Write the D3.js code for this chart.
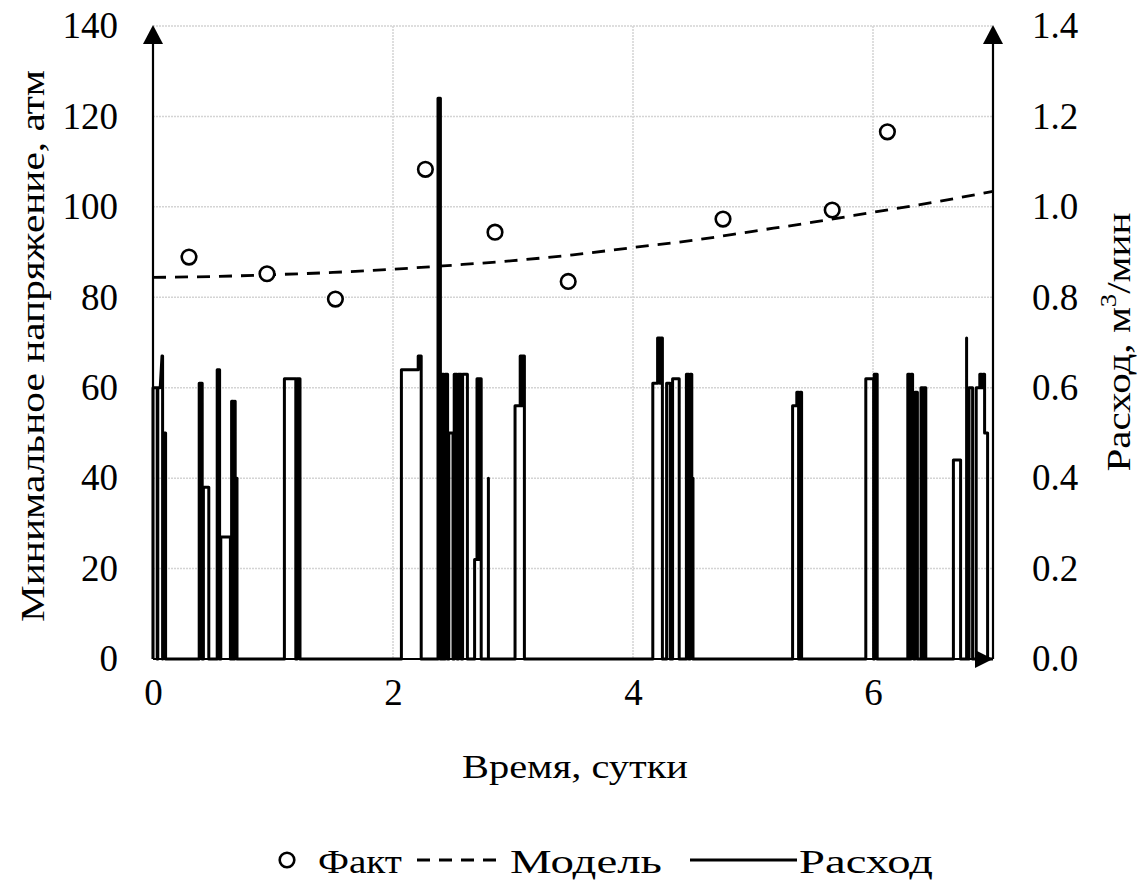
<!DOCTYPE html>
<html>
<head>
<meta charset="utf-8">
<script src="https://cdn.jsdelivr.net/npm/d3@7"></script>
<style>
  html, body { margin: 0; padding: 0; background: #ffffff; }
  svg { display: block; }
  text { font-family: "Liberation Serif", "DejaVu Serif", serif; fill: #000; }
</style>
</head>
<body>
<svg id="chart" width="1141" height="881"></svg>
<script>
// ---------- DATA ----------
const leftTicks = [0, 20, 40, 60, 80, 100, 120, 140];
const rightTicks = [0, 0.2, 0.4, 0.6, 0.8, 1.0, 1.2, 1.4];
const xTicks = [0, 2, 4, 6];

// Факт (measured minimum pressure), time in days / atm
const factTime  = [0.30, 0.95, 1.52, 2.27, 2.85, 3.46, 4.75, 5.66, 6.12];
const factValue = [88.9, 85.2, 79.6, 108.3, 94.4, 83.5, 97.3, 99.3, 116.6];

// Модель (model curve)
const modelTime  = [0, 0.5, 1, 1.5, 2, 2.5, 3, 3.5, 4, 4.5, 5, 5.5, 6, 6.5, 7];
const modelValue = [84.4, 84.6, 85.0, 85.5, 86.2, 87.1, 88.1, 89.4, 91.0, 92.6, 94.6, 96.6, 98.8, 101.0, 103.4];

// Расход (flow rate, m3/min) step series: [time, value]
const flowPoints = [
  [0,0],[0,0.60],[0.035,0.60],[0.035,0],[0.04,0],[0.04,0.60],[0.06,0.60],[0.075,0.67],[0.08,0.67],[0.08,0],[0.08,0.50],[0.105,0.50],[0.105,0],
  [0.385,0],[0.385,0.61],[0.41,0.61],[0.41,0],[0.42,0],[0.42,0.38],[0.465,0.38],[0.465,0],
  [0.535,0],[0.535,0.64],[0.555,0.64],[0.555,0],[0.565,0],[0.565,0.27],[0.645,0.27],[0.645,0],[0.655,0],[0.655,0.57],[0.67,0.57],[0.67,0],[0.68,0],[0.68,0.57],[0.685,0.57],[0.685,0.40],[0.70,0.40],[0.70,0],
  [1.095,0],[1.095,0.62],[1.19,0.62],[1.19,0],[1.20,0],[1.20,0.62],[1.225,0.62],[1.225,0],
  [2.07,0],[2.07,0.64],[2.21,0.64],[2.21,0.67],[2.235,0.67],[2.235,0],
  [2.375,0],[2.375,1.24],[2.395,1.24],[2.395,0],[2.41,0],[2.41,0.63],[2.425,0.63],[2.425,0],[2.435,0],[2.435,0.63],[2.455,0.63],[2.455,0],
  [2.465,0],[2.465,0.50],[2.50,0.50],[2.50,0],
  [2.51,0],[2.51,0.63],[2.535,0.63],[2.535,0],[2.545,0],[2.545,0.63],[2.57,0.63],[2.57,0],[2.58,0],[2.58,0.63],[2.62,0.63],[2.62,0],
  [2.68,0],[2.68,0.22],[2.70,0.22],[2.70,0.62],[2.715,0.62],[2.715,0.22],[2.72,0.22],[2.72,0.62],[2.735,0.62],[2.735,0],
  [2.795,0],[2.795,0.40],[2.795,0],
  [3.017,0],[3.017,0.56],[3.06,0.56],[3.06,0.67],[3.075,0.67],[3.075,0.56],[3.08,0.56],[3.08,0.67],[3.095,0.67],[3.095,0],
  [4.165,0],[4.165,0.61],[4.205,0.61],[4.205,0.71],[4.225,0.71],[4.225,0.61],[4.235,0.61],[4.235,0.71],[4.245,0.71],[4.245,0],
  [4.28,0],[4.28,0.61],[4.31,0.61],[4.31,0],[4.33,0],[4.33,0.62],[4.385,0.62],[4.385,0],
  [4.445,0],[4.445,0.63],[4.465,0.63],[4.465,0],[4.475,0],[4.475,0.63],[4.49,0.63],[4.49,0.40],[4.50,0.40],[4.50,0],
  [5.33,0],[5.33,0.56],[5.365,0.56],[5.365,0.59],[5.38,0.59],[5.38,0],[5.39,0],[5.39,0.59],[5.405,0.59],[5.405,0],
  [5.94,0],[5.94,0.62],[6.005,0.62],[6.005,0],[6.01,0],[6.01,0.63],[6.035,0.63],[6.035,0],
  [6.29,0],[6.29,0.63],[6.305,0.63],[6.305,0],[6.315,0],[6.315,0.63],[6.33,0.63],[6.33,0.59],[6.34,0.59],[6.34,0],[6.35,0],[6.35,0.59],[6.37,0.59],[6.37,0],
  [6.40,0],[6.40,0.60],[6.415,0.60],[6.415,0],[6.425,0],[6.425,0.60],[6.44,0.60],[6.44,0],
  [6.67,0],[6.67,0.44],[6.73,0.44],[6.73,0],
  [6.78,0],[6.78,0.71],[6.78,0],[6.80,0],[6.80,0.60],[6.83,0.60],[6.83,0],
  [6.86,0],[6.86,0.60],[6.89,0.60],[6.89,0.63],[6.905,0.63],[6.905,0.60],[6.915,0.60],[6.915,0.63],[6.93,0.63],[6.93,0.50],[6.955,0.50],[6.955,0],[7,0]
];

const leftTitle = "Минимальное напряжение, атм";
const xTitle = "Время, сутки";
const legendLabels = ["Факт", "Модель", "Расход"];

// ---------- LAYOUT ----------
const svg = d3.select("#chart");
const X0 = 153, X1 = 993, Y0 = 659, Y1 = 26;
const FS = 37;     // numeric labels
const FC = 34;     // cyrillic labels
const FF = "'Liberation Serif', 'DejaVu Serif', serif";

const x = d3.scaleLinear().domain([0, 7]).range([X0, X1]);
const yL = d3.scaleLinear().domain([0, 140]).range([Y0, Y1]);
const yR = d3.scaleLinear().domain([0, 1.4]).range([Y0, Y1]);

// gridlines
const grid = svg.append("g").attr("stroke", "#d4d4d4").attr("stroke-width", 1.5).attr("stroke-dasharray", "2,1");
grid.selectAll("line.h").data(leftTicks.filter(d => d > 0)).enter().append("line")
  .attr("x1", X0).attr("x2", X1).attr("y1", d => yL(d)).attr("y2", d => yL(d));
grid.selectAll("line.v").data(xTicks.filter(d => d > 0)).enter().append("line")
  .attr("x1", d => x(d)).attr("x2", d => x(d)).attr("y1", Y1).attr("y2", Y0);

// flow step line
svg.append("path")
  .datum(flowPoints)
  .attr("fill", "none")
  .attr("stroke", "#000")
  .attr("stroke-width", 3)
  .attr("stroke-linejoin", "round")
  .attr("d", d3.line().x(d => x(d[0])).y(d => yR(d[1])));

// model dashed line
svg.append("path")
  .datum(modelTime.map((t, i) => [t, modelValue[i]]))
  .attr("fill", "none")
  .attr("stroke", "#000")
  .attr("stroke-width", 2.8)
  .attr("stroke-dasharray", "13,9")
  .attr("d", d3.line().curve(d3.curveMonotoneX).x(d => x(d[0])).y(d => yL(d[1])));

// fact markers
svg.append("g").selectAll("circle")
  .data(factTime.map((t, i) => [t, factValue[i]]))
  .enter().append("circle")
  .attr("cx", d => x(d[0])).attr("cy", d => yL(d[1])).attr("r", 7.3)
  .attr("fill", "#fff").attr("stroke", "#000").attr("stroke-width", 2.6);

// axes lines with arrows
const axisG = svg.append("g");
axisG.append("line").attr("x1", X0).attr("x2", X0).attr("y1", Y0).attr("y2", Y1 + 10).attr("stroke", "#000").attr("stroke-width", 2.2);
axisG.append("line").attr("x1", X1).attr("x2", X1).attr("y1", Y0).attr("y2", Y1 + 10).attr("stroke", "#000").attr("stroke-width", 2.2);
axisG.append("line").attr("x1", X0).attr("x2", X1 - 10).attr("y1", Y0).attr("y2", Y0).attr("stroke", "#000").attr("stroke-width", 2.2);
const arrowUp = (cx) => `M${cx},${Y1 - 1} L${cx - 10},${Y1 + 18} L${cx + 10},${Y1 + 18} Z`;
axisG.append("path").attr("d", arrowUp(X0)).attr("fill", "#000");
axisG.append("path").attr("d", arrowUp(X1)).attr("fill", "#000");
axisG.append("path").attr("d", `M${X1},${Y0} L${X1 - 18},${Y0 - 9} L${X1 - 18},${Y0 + 9} Z`).attr("fill", "#000");

// tick labels via d3 axes
const styleAxis = g => {
  g.attr("font-family", FF);
  g.select(".domain").remove();
  g.selectAll(".tick line").remove();
  g.selectAll("text").attr("font-size", FS).attr("fill", "#000").attr("font-family", FF);
};
svg.append("g").attr("transform", `translate(${X0},0)`)
  .call(d3.axisLeft(yL).tickValues(leftTicks).tickSize(0).tickPadding(35).tickFormat(d3.format("d")))
  .call(styleAxis);
svg.append("g").attr("transform", `translate(${X1},0)`)
  .call(d3.axisRight(yR).tickValues(rightTicks).tickSize(0).tickPadding(39).tickFormat(d3.format(".1f")))
  .call(styleAxis);
svg.append("g").attr("transform", `translate(0,${Y0})`)
  .call(d3.axisBottom(x).tickValues(xTicks).tickSize(0).tickPadding(20).tickFormat(d3.format("d")))
  .call(styleAxis);

// axis titles
svg.append("text")
  .attr("transform", `translate(44,346) rotate(-90)`)
  .attr("text-anchor", "middle").attr("font-size", FC)
  .attr("textLength", 552).attr("lengthAdjust", "spacingAndGlyphs")
  .text(leftTitle);

const rt = svg.append("text")
  .attr("transform", `translate(1130,342) rotate(-90)`)
  .attr("text-anchor", "middle").attr("font-size", FC);
rt.append("tspan").text("Расход, м");
rt.append("tspan").attr("dy", -14).attr("font-size", FC * 0.65).text("3");
rt.append("tspan").attr("dy", 14).text("/мин");
// stretch the right title along its reading direction to the reference length (~259px)
const natLen = rt.node().getComputedTextLength();
rt.attr("transform", `translate(1130,342) rotate(-90) scale(${259 / natLen},1)`);

svg.append("text")
  .attr("x", 575).attr("y", 778)
  .attr("text-anchor", "middle").attr("font-size", FC)
  .attr("textLength", 226).attr("lengthAdjust", "spacingAndGlyphs")
  .text(xTitle);

// legend
const lg = svg.append("g");
const LY = 860;
lg.append("circle").attr("cx", 287).attr("cy", LY).attr("r", 7.3).attr("fill", "#fff").attr("stroke", "#000").attr("stroke-width", 2.6);
lg.append("text").attr("x", 318).attr("y", LY + 13).attr("font-size", FC)
  .attr("textLength", 84).attr("lengthAdjust", "spacingAndGlyphs").text(legendLabels[0]);
lg.append("line").attr("x1", 417).attr("x2", 502).attr("y1", LY).attr("y2", LY).attr("stroke", "#000").attr("stroke-width", 2.8).attr("stroke-dasharray", "13,9");
lg.append("text").attr("x", 510).attr("y", LY + 13).attr("font-size", FC)
  .attr("textLength", 152).attr("lengthAdjust", "spacingAndGlyphs").text(legendLabels[1]);
lg.append("line").attr("x1", 690).attr("x2", 797).attr("y1", LY).attr("y2", LY).attr("stroke", "#000").attr("stroke-width", 3);
lg.append("text").attr("x", 799).attr("y", LY + 13).attr("font-size", FC)
  .attr("textLength", 134).attr("lengthAdjust", "spacingAndGlyphs").text(legendLabels[2]);
</script>
</body>
</html>
